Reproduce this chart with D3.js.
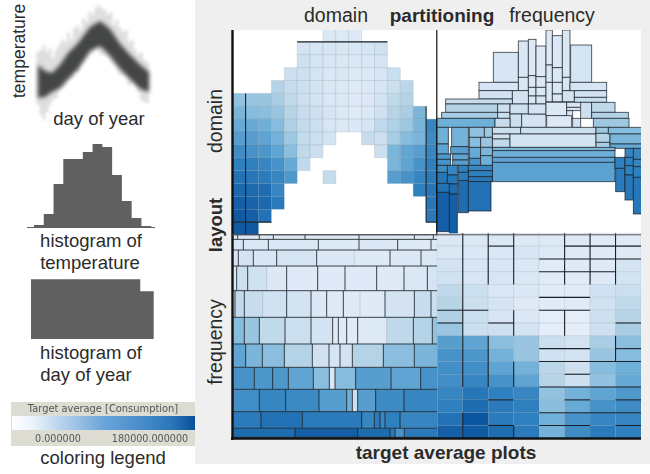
<!DOCTYPE html>
<html><head><meta charset="utf-8">
<style>
html,body{margin:0;padding:0;background:#fff}
text{font-family:"Liberation Sans",Arial,sans-serif;fill:#2b2b2b}
.soft{filter:blur(.4px)}
</style>
<script src="https://cdn.jsdelivr.net/npm/d3@7"></script>
</head><body><svg id="c" width="650" height="474"></svg>
<script>
// --- scatter summary: day of year vs temperature
const scatterDays=[0,23,46,72,99,132,171,204,237,270,303,336,365];
const tempCoreHigh=[60,54,52,60,72,82,98,104,96,81,70,60,53];
const tempCoreLow=[27,28,33,37,46,56,74,79,69,56,46,36,33];
const streakDays=d3.range(0,370,10);
const streakHigh=[73,75,80,73,77,67,75,80,85,83,92,85,97,100,95,107,103,113,110,117,120,117,115,110,113,100,105,97,93,95,83,85,75,70,73,65,63];
const streakLow=[20,10,5,13,20,25,27,35,37,40,45,47,55,53,60,63,67,70,73,77,73,70,70,67,63,60,55,50,50,47,40,43,40,33,25,23,22];
// --- histograms
const tempCounts=[2,13,43,68,68,75,83,80,52,26,9,1];
const dayEdges=[0,30,60,90,120,150,180,210,240,270,300,325,365];
const dayCounts=[60,60,60,60,60,60,60,60,60,60,60,48];
// --- legend
const legendTitle="Target average [Consumption]";
const legendLabels=["0.000000","180000.000000"];
const legendMax=180; // thousands
const legendStops=["#ffffff","#e8f1fa","#bcd6ee","#94bee4","#6aa5d8","#5596d0","#3f87c6","#2a75b8","#0a4f9c"];
// --- domain/domain target averages (row -> first column + values, several runs)
const domainDomain=[
 [[7,[30,27,27]]],
 [[5,[35,33,32,31,31,33,38]]],
 [[5,[40,34,32,30,28,30,34]]],
 [[4,[42,40,34,30,29,27,28,32,44]]],
 [[3,[60,45,40,34,30,28,27,28,32,42,55]]],
 [[0,[75,72,72,65,50,42,35,30,28,26,28,36,50,60]]],
 [[0,[85,80,78,72,58,45,40,32,28,26,30,38,58,65,85]]],
 [[0,[95,95,90,80,62,48,42,32,28,28,32,50,62,70,85,125]]],
 [[0,[105,105,100,88,70,48,42,35]],[10,[45,40,65,80,85,120]]],
 [[0,[120,115,112,100,78,50,42]],[11,[42,85,98,105,125]]],
 [[0,[130,130,125,115,95,50]],[12,[85,100,115,130]]],
 [[0,[145,140,135,125,110]],[7,[48]],[12,[105,115,125,135]]],
 [[0,[155,155,150,125]],[14,[130,140]]],
 [[0,[165,160,155,135]],[15,[140]]],
 [[0,[170,165,145]],[15,[135]]],
 [[0,[170,170]]]
];
// partition boundaries in grid units
const domainDomainLines=[[1,5,1,16],[0,15,3,15],[5,1,12,1],[15,6,15,15],[15,15,16,15]];
// --- domain (x) / frequency partitioning bins: x0,x1,y0,y1,value in layout units
const domainFreqBins=[
[190,265,97,187,32],[265,295,63,172,30],[265,295,172,212,30],[295,318,58,167,28],[295,318,167,202,30],[295,318,202,228,32],[295,318,228,252,32],
[318,348,78,170,27],[318,348,170,202,30],[318,348,202,228,30],[318,348,228,252,32],[348,367,30,135,27],[348,367,135,187,30],[348,367,187,245,30],
[367,397,47,143,28],[367,397,143,187,30],[367,397,187,222,30],[367,397,222,245,32],[397,420,30,172,30],[397,420,172,212,32],[397,433,212,245,35],
[422,485,75,187,33],[147,265,187,212,32],[147,247,212,237,35],[247,295,212,252,35],[420,530,187,212,33],[433,530,212,232,38],[433,530,232,247,45],
[47,247,237,252,45],[47,203,252,277,60],[203,240,252,277,40],[35,203,277,295,65],[203,240,277,295,42],[240,295,252,282,40],[240,275,282,322,42],
[275,348,282,322,35],[295,348,252,282,35],[348,410,247,287,28],[410,455,247,262,32],[410,455,262,272,36],[410,428,272,295,32],[350,425,287,322,28],
[428,452,295,322,35],[452,485,247,295,40],[485,555,247,277,52],[485,595,277,295,60],[490,597,295,322,70],[20,195,295,322,90],[195,240,295,322,45],
[187,272,322,342,42],[272,498,322,342,42],[187,240,342,357,38],[187,240,357,382,50],[240,498,342,382,35],[498,535,322,340,70],[498,540,340,367,60],
[498,540,367,385,65],[535,640,322,342,80],[540,640,342,372,85],[540,640,372,385,95],[187,555,382,392,85],[187,555,392,412,90],[187,555,412,427,100],
[187,555,427,485,102],[20,55,322,372,90],[20,55,372,402,100],[20,62,402,418,110],[20,62,418,436,115],[65,115,322,380,88],[62,115,380,402,105],
[68,115,402,420,100],[68,115,420,436,105],[118,163,322,352,75],[163,187,322,352,70],[118,152,352,382,78],[152,187,352,382,72],[118,152,382,415,95],
[152,187,382,407,85],[118,152,415,436,115],[152,187,407,436,90],[20,52,436,457,120],[52,82,436,465,125],[85,115,436,457,130],[115,187,436,452,125],
[115,187,452,470,130],[20,52,457,490,140],[52,82,465,492,140],[85,115,457,482,135],[115,187,470,485,140],[20,58,490,517,145],[58,82,492,522,150],
[85,115,482,578,150],[115,183,485,573,145],[20,58,517,635,165],[58,82,522,640,165],[555,585,412,445,130],[557,585,445,515,135],[585,610,385,412,125],
[585,610,412,437,130],[585,610,437,465,130],[585,610,465,540,140],[610,640,385,418,125],[610,640,418,440,125],[610,640,440,472,130],[610,640,472,582,140]
];
// --- frequency layout, domain partitioning: row bands and cells
const freqRowEdges=[14,28,60,108,182,262,342,412,478,545,595,622];
const freqCellEdges=[
 [38,103,145,240,402,568,625],
 [55,130,280,402,518,618],
 [40,85,155,275,388,495,588],
 [35,68,125,185,278,360,455,537,607],
 [30,58,113,185,258,305,355,405,480,568,618],
 [58,103,180,258,323,340,365,398,485,565,622],
 [62,112,178,262,312,345,382,475,568],
 [88,143,190,265,313,330,392,498,587],
 [103,182,282,365,382,398,452,537],
 [108,232,410,448,465,480,525],
 [210,398,495,510,538]
];
const freqCellValues=[
 [30,28,28,28,28,28,28,28],
 [32,30,30,27,28,27,27],
 [35,35,32,34,28,27,28,30],
 [30,42,38,28,26,26,26,25,30,34],
 [42,50,45,38,35,28,27,26,25,35,45,42],
 [80,72,50,42,36,25,27,25,27,52,60,75],
 [100,85,78,60,38,33,35,60,78,85],
 [115,112,110,100,78,30,80,105,100,115],
 [118,125,122,105,90,40,105,120,125],
 [135,145,135,125,135,125,130,125],
 [150,165,150,135,115,135]
];
const freqFaintEdges=[388,125,405,113,485];
// --- frequency layout, frequency partitioning: 8 columns x 16 rows
const freqFreqColumns=[
 [30,30,36,38,52,58,62,72,105,115,118,118,125,130,145,165],
 [28,28,32,32,42,42,42,42,100,112,118,125,140,150,175,170],
 [30,30,32,32,30,34,32,40,78,88,100,115,130,135,135,150],
 [27,32,30,30,30,25,28,34,72,72,88,100,125,130,130,135],
 [27,27,24,24,24,24,22,22,42,38,55,58,75,78,90,88],
 [27,25,25,24,24,24,22,22,35,35,40,40,88,95,115,120],
 [25,25,25,27,38,38,40,40,65,72,80,75,100,115,125,135],
 [25,25,34,36,42,50,58,65,78,80,90,95,110,120,125,130]
];
const ffVertical=[[1,0,12],[1,14,16],[2,0,4],[2,8,12],[3,0,4],[3,6,8],[3,10,12],[3,15,16],[5,0,4],[5,6,8],[6,0,4],[7,0,4],[7,8,10]];
const ffHorizontal=[[6,0,2],[7,0,1],[1,2,3],[7,2,3],[2,4,8],[3,4,7],[1,5,8],[5,4,6],[6,4,6],[7,7,8],[9,4,6],[9,7,8],[10,4,8],[11,5,6],[12,4,8],[13,2,3],[13,5,6],[13,7,8],[14,4,8],[15,2,3],[15,4,6],[15,7,8]];

const svg=d3.select("#c");
svg.append("rect").attr("x",195).attr("y",0).attr("width",455).attr("height",464).attr("fill","#efefef");
const defs=svg.append("defs");
const color=d3.scaleLinear().domain([0,25,60,90,130,180])
 .range(["#ffffff","#e0eaf7","#b5d3e6","#6fb0d8","#2f80bf","#08519c"]).clamp(true);
defs.append("clipPath").attr("id","plot").append("rect").attr("x",232).attr("y",30).attr("width",409).attr("height",408);
const lineColor="#1c2228";
const plot=svg.append("g").attr("clip-path","url(#plot)");
const soft=plot.append("g").attr("class","soft");
soft.append("rect").attr("x",232).attr("y",30).attr("width",409).attr("height",408).attr("fill","#fff");

// top-left: domain / domain
const ddX=d3.scaleLinear().domain([0,16]).range([232.7,439]);
const ddY=d3.scaleLinear().domain([0,16]).range([29,235]);
const ddCells=domainDomain.flatMap((runs,r)=>runs.flatMap(([c0,vals])=>vals.map((v,i)=>({r,c:c0+i,v}))));
const tl=soft.append("g");
tl.selectAll("rect").data(ddCells).join("rect")
 .attr("x",d=>ddX(d.c)).attr("y",d=>ddY(d.r)).attr("width",ddX(1)-ddX(0)).attr("height",ddY(1)-ddY(0))
 .attr("fill",d=>color(d.v)).attr("stroke","#5f7183").attr("stroke-opacity",.14).attr("stroke-width",1);
tl.selectAll("line").data(domainDomainLines).join("line")
 .attr("x1",d=>ddX(d[0])).attr("y1",d=>ddY(d[1])).attr("x2",d=>ddX(d[2])).attr("y2",d=>ddY(d[3]))
 .attr("stroke",lineColor).attr("stroke-width",1.1);

// top-right: domain layout / frequency partitioning
const dfX=d3.scaleLinear().domain([0,645]).range([430,645]);
const dfY=d3.scaleLinear().domain([0,660]).range([20,240]);
soft.append("g").selectAll("rect").data(domainFreqBins).join("rect")
 .attr("x",d=>dfX(d[0])).attr("y",d=>dfY(d[2])).attr("width",d=>dfX(d[1])-dfX(d[0])).attr("height",d=>dfY(d[3])-dfY(d[2]))
 .attr("fill",d=>color(d[4])).attr("stroke",lineColor).attr("stroke-opacity",.8).attr("stroke-width",.9);

// bottom-left: frequency layout / domain partitioning
const fdX=d3.scaleLinear().domain([23,636]).range([232.67,437]);
const fdY=d3.scaleLinear().domain([14,625]).range([234.7,438.3]);
const bl=soft.append("g");
freqCellEdges.forEach((edges,r)=>{
 const e=[23,...edges,636];
 const y0=fdY(freqRowEdges[r]),y1=fdY(freqRowEdges[r+1]);
 bl.append("g").selectAll("rect").data(freqCellValues[r].slice(0,e.length-1)).join("rect")
  .attr("x",(d,i)=>fdX(e[i])).attr("y",y0).attr("width",(d,i)=>fdX(e[i+1])-fdX(e[i])+.3).attr("height",y1-y0)
  .attr("fill",d=>color(d));
 bl.append("g").selectAll("line").data(edges).join("line")
  .attr("x1",d=>fdX(d)).attr("x2",d=>fdX(d)).attr("y1",y0).attr("y2",y1)
  .attr("stroke",d=>freqFaintEdges.includes(d)?"#8a99a8":lineColor).attr("stroke-opacity",d=>freqFaintEdges.includes(d)?.35:.85).attr("stroke-width",1);
});
bl.append("g").selectAll("line").data(freqRowEdges).join("line")
 .attr("x1",fdX(23)).attr("x2",fdX(636)).attr("y1",d=>fdY(d)).attr("y2",d=>fdY(d))
 .attr("stroke",lineColor).attr("stroke-opacity",.85).attr("stroke-width",1);

// bottom-right: frequency layout / frequency partitioning
const ffX=d3.scaleLinear().domain([0,8]).range([437.3,641]);
const ffY=d3.scaleLinear().domain([0,16]).range([233.3,438.3]);
const br=soft.append("g");
const ffCells=freqFreqColumns.flatMap((col,c)=>col.map((v,r)=>({c,r,v})));
br.selectAll("rect").data(ffCells).join("rect")
 .attr("x",d=>ffX(d.c)).attr("y",d=>ffY(d.r)).attr("width",ffX(1)-ffX(0)).attr("height",ffY(1)-ffY(0))
 .attr("fill",d=>color(d.v)).attr("stroke","#5f7183").attr("stroke-opacity",.12).attr("stroke-width",1);
br.append("g").selectAll("line").data(ffVertical).join("line")
 .attr("x1",d=>ffX(d[0])).attr("x2",d=>ffX(d[0])).attr("y1",d=>ffY(d[1])).attr("y2",d=>ffY(d[2]))
 .attr("stroke",lineColor).attr("stroke-width",1.1);
br.append("g").selectAll("line").data(ffHorizontal).join("line")
 .attr("y1",d=>ffY(d[0])).attr("y2",d=>ffY(d[0])).attr("x1",d=>ffX(d[1])).attr("x2",d=>ffX(d[2]))
 .attr("stroke",lineColor).attr("stroke-width",1.1);

// panel frame
const frame=svg.append("g").attr("stroke","#111");
frame.append("line").attr("x1",232.5).attr("x2",232.5).attr("y1",30).attr("y2",440).attr("stroke-width",2.4);
frame.append("line").attr("x1",231).attr("x2",641).attr("y1",438.5).attr("y2",438.5).attr("stroke-width",2.4);
frame.append("line").attr("x1",436.8).attr("x2",436.8).attr("y1",30).attr("y2",235).attr("stroke-width",1.2);
frame.append("line").attr("x1",232).attr("x2",641).attr("y1",234.8).attr("y2",234.8).attr("stroke","#555").attr("stroke-width",1);

// scatter summary
const sx=d3.scaleLinear().domain([0,365]).range([38,149]);
const sy=d3.scaleLinear().domain([0,125]).range([125,0]);
const streaks=svg.append("g").style("filter","blur(1.6px)");
streaks.selectAll("line").data(streakDays).join("line")
 .attr("x1",d=>sx(d)).attr("x2",d=>sx(d))
 .attr("y1",(d,i)=>sy(streakHigh[i])).attr("y2",(d,i)=>sy(streakLow[i]))
 .attr("stroke","#8c8c8c").attr("stroke-opacity",.26).attr("stroke-width",3.4);
const rows=scatterDays.map((d,i)=>({d,ch:tempCoreHigh[i],cl:tempCoreLow[i]}));
svg.append("path").datum(rows)
 .attr("d",d3.area().x(d=>sx(d.d)).y0(d=>sy(d.cl)).y1(d=>sy(d.ch)).curve(d3.curveLinear))
 .attr("fill","#444646").style("filter","blur(2px)");

// temperature histogram
const tx=d3.scaleLinear().domain([0,12]).range([34,151.2]);
const ty=d3.scaleLinear().domain([0,100]).range([227,127]);
const grey="#616060";
svg.append("path").attr("fill",grey).attr("d",
 d3.area().x((d,i)=>tx(i)).y0(ty(0)).y1(d=>ty(d)).curve(d3.curveStepAfter)([...tempCounts,0]));
svg.append("line").attr("x1",27).attr("x2",155).attr("y1",227.5).attr("y2",227.5).attr("stroke",grey);

// day histogram
const hx=d3.scaleLinear().domain([0,365]).range([31,153.7]);
const hy=d3.scaleLinear().domain([0,60]).range([339,279.3]);
svg.append("path").attr("fill",grey).attr("d",
 d3.area().x((d,i)=>hx(dayEdges[i])).y0(hy(0)).y1(d=>hy(d)).curve(d3.curveStepAfter)([...dayCounts,dayCounts[dayCounts.length-1]]));

// legend
const lg=defs.append("linearGradient").attr("id","lg");
legendStops.forEach((c,i)=>lg.append("stop").attr("offset",i/(legendStops.length-1)).attr("stop-color",c));
svg.append("rect").attr("x",11).attr("y",402).attr("width",184).attr("height",44).attr("fill","#dcdcd3");
svg.append("rect").attr("x",12).attr("y",416).attr("width",183).attr("height",14).attr("fill","url(#lg)").attr("class","soft");
const legendText=(x,y,s,size)=>svg.append("text").attr("x",x).attr("y",y).attr("font-size",size).attr("text-anchor","middle")
 .style("font-family","'DejaVu Sans',sans-serif").style("fill","#555").style("filter","blur(.3px)").text(s);
legendText(103,411.5,legendTitle,9.9);
legendText(58,441.5,legendLabels[0],9.6);
legendText(150,441.5,legendLabels[1],9.6);

// captions
const caption=(x,y,s,size,bold,rot,anchor)=>{
 const t=svg.append("text").attr("font-size",size).attr("text-anchor",anchor||"middle")
  .attr("font-weight",bold?"bold":"normal").text(s);
 t.attr("transform",`translate(${x},${y})`+(rot?" rotate(-90)":""));
};
[[99,125,"day of year"],[91,247,"histogram of"],[90,269,"temperature"],[91,359,"histogram of"],[86,381,"day of year"],[103,464,"coloring legend"]]
 .forEach(a=>caption(a[0],a[1],a[2],18.5,false));
caption(336,22,"domain",19.5,false);
caption(552,22,"frequency",19.5,false);
caption(442,22,"partitioning",19,true);
caption(446,459,"target average plots",19,true);
caption(25,98,"temperature",17.5,false,true,"start");
caption(222,121,"domain",19.5,false,true);
caption(222,225,"layout",18.5,true,true);
caption(222,342,"frequency",19.5,false,true);
</script></body></html>
